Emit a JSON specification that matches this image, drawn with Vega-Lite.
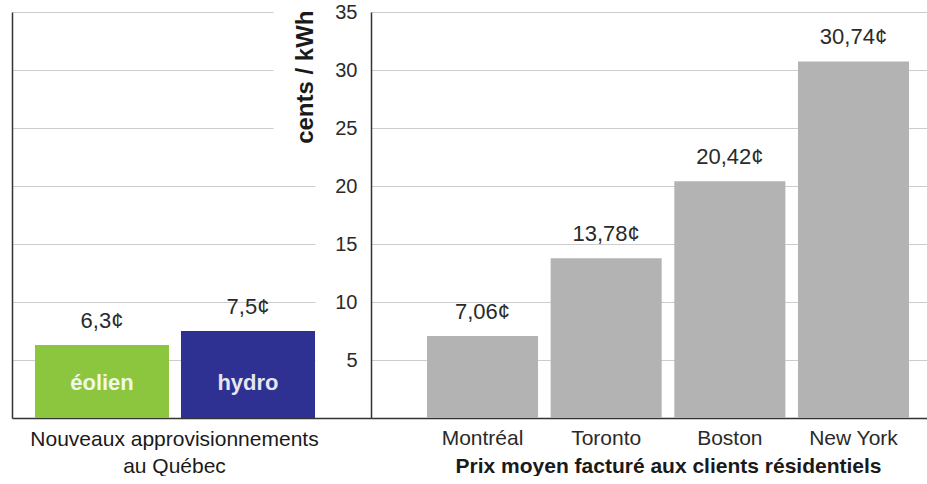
{
  "$schema": "https://vega.github.io/schema/vega-lite/v6.json",
  "padding": {"left": 12, "top": 2, "right": 0, "bottom": 0},
  "background": "white",
  "config": {
    "view": {"stroke": null},
    "font": "Liberation Sans",
    "axis": {"labelFont": "Liberation Sans", "titleFont": "Liberation Sans", "labelColor": "#2a2a2a", "titleColor": "#1a1a1a"}
  },
  "datasets": {
    "prices": [
      {"group": "qc", "cat": "éolien", "value": 6.3, "label": "6,3¢"},
      {"group": "qc", "cat": "hydro", "value": 7.5, "label": "7,5¢"},
      {"group": "ville", "cat": "Montréal", "value": 7.06, "label": "7,06¢"},
      {"group": "ville", "cat": "Toronto", "value": 13.78, "label": "13,78¢"},
      {"group": "ville", "cat": "Boston", "value": 20.42, "label": "20,42¢"},
      {"group": "ville", "cat": "New York", "value": 30.74, "label": "30,74¢"}
    ]
  },
  "hconcat": [
    {
      "width": 359,
      "height": 406,
      "data": {"name": "prices"},
      "transform": [{"filter": "datum.group === 'qc'"}],
      "encoding": {
        "x": {
          "field": "cat", "type": "nominal", "sort": null,
          "scale": {"paddingInner": 0.0822, "paddingOuter": 0.2705, "align": 0.291},
          "axis": {
            "labels": false, "ticks": false, "domainColor": "#333333", "domainWidth": 1.5,
            "title": ["Nouveaux approvisionnements", "au Québec"],
            "titleFontSize": 21, "titleFontWeight": "normal", "titleLineHeight": 27,
            "titleX": 162, "titleAlign": "center", "titlePadding": 10
          }
        }
      },
      "layer": [
        {
          "mark": {"type": "bar"},
          "encoding": {
            "y": {
              "field": "value", "type": "quantitative",
              "scale": {"domain": [0, 35], "nice": false},
              "axis": {
                "orient": "left", "labels": false, "ticks": false, "title": null,
                "domainColor": "#333333", "domainWidth": 1.5,
                "grid": true, "gridColor": "#cccccc", "gridWidth": 1,
                "gridDash": {"condition": {"test": "datum.value >= 25", "value": [261, 300]}, "value": [303, 300]},
                "values": [5, 10, 15, 20, 25, 30, 35]
              }
            },
            "color": {
              "field": "cat", "type": "nominal", "legend": null,
              "scale": {"domain": ["éolien", "hydro"], "range": ["#8cc63f", "#2e3192"]}
            }
          }
        },
        {
          "mark": {"type": "text", "baseline": "bottom", "dy": -12, "fontSize": 22, "color": "#2a2a2a"},
          "encoding": {
            "y": {
              "field": "value", "type": "quantitative",
              "axis": {
                "orient": "right", "labels": true, "labelAlign": "right", "labelPadding": -14,
                "labelFontSize": 20, "ticks": false, "domain": false, "grid": false,
                "values": [5, 10, 15, 20, 25, 30, 35],
                "title": "cents / kWh", "titleFontSize": 24, "titleFontWeight": "bold",
                "titleAngle": 270, "titleAlign": "right", "titleBaseline": "middle",
                "titleX": -66, "titleY": -2
              }
            },
            "text": {"field": "label"}
          }
        },
        {
          "mark": {"type": "text", "baseline": "middle", "fontSize": 22, "fontWeight": "bold", "color": "white", "opacity": 0.88},
          "encoding": {
            "y": {"datum": 3, "type": "quantitative", "axis": null},
            "text": {"field": "cat"}
          }
        }
      ],
      "resolve": {"axis": {"y": "independent"}}
    },
    {
      "width": 556,
      "height": 406,
      "data": {"name": "prices"},
      "transform": [{"filter": "datum.group === 'ville'"}],
      "encoding": {
        "x": {
          "field": "cat", "type": "nominal", "sort": null,
          "scale": {"paddingInner": 0.102, "paddingOuter": 0.299, "align": 0.757},
          "axis": {
            "labelAngle": 0, "labelFontSize": 21, "labelPadding": 9, "ticks": false,
            "domainColor": "#333333", "domainWidth": 1.5,
            "title": "Prix moyen facturé aux clients résidentiels",
            "titleFontSize": 21, "titleFontWeight": "bold", "titlePadding": 7,
            "titleX": 297, "titleAlign": "center"
          }
        }
      },
      "layer": [
        {
          "mark": {"type": "bar", "color": "#b3b3b3"},
          "encoding": {
            "y": {
              "field": "value", "type": "quantitative",
              "scale": {"domain": [0, 35], "nice": false},
              "axis": {
                "orient": "left", "labels": false, "ticks": false, "title": null,
                "domainColor": "#333333", "domainWidth": 1.5,
                "grid": true, "gridColor": "#cccccc", "gridWidth": 1,
                "values": [5, 10, 15, 20, 25, 30, 35]
              }
            }
          }
        },
        {
          "mark": {"type": "text", "baseline": "bottom", "dy": -12, "fontSize": 22, "color": "#2a2a2a"},
          "encoding": {
            "y": {"field": "value", "type": "quantitative"},
            "text": {"field": "label"}
          }
        }
      ]
    }
  ],
  "spacing": 0
}
